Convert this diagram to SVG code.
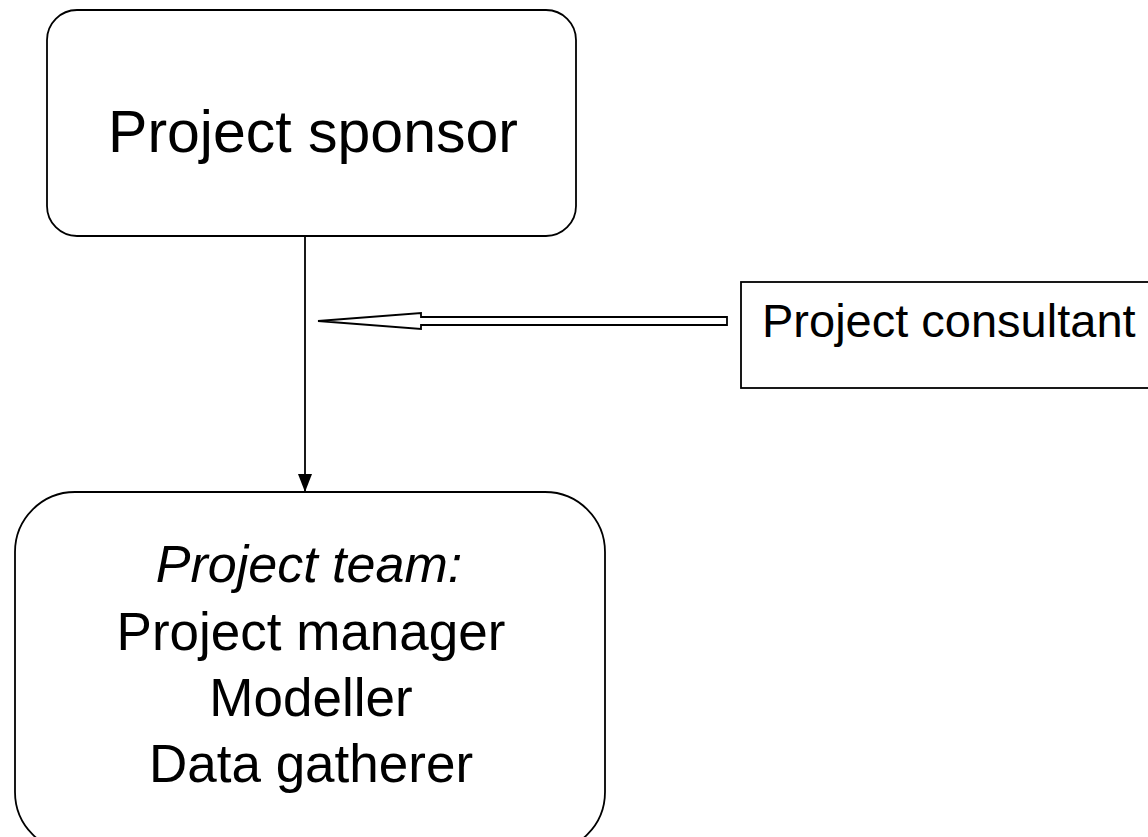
<svg xmlns="http://www.w3.org/2000/svg" width="1148" height="837" viewBox="0 0 1148 837">
<style>
.box{fill:#fff;stroke:#000;stroke-width:1.8}
.t{font-family:"Liberation Sans",Arial,sans-serif;fill:#000;text-anchor:middle}
.conn{stroke:#000;stroke-width:1.8;fill:none}
</style>
<defs>
<marker id="ah" markerWidth="14" markerHeight="18" refX="7" refY="18" orient="0" markerUnits="userSpaceOnUse">
<path d="M0,0 L14,0 L7,18 Z" fill="#000"/>
</marker>
</defs>
<rect width="1148" height="837" fill="#fff"/>
<g id="sponsor">
<rect class="box" x="47" y="10" width="529" height="226" rx="30"/>
<text class="t" x="313" y="152" font-size="59">Project sponsor</text>
</g>
<g id="consultant">
<rect class="box" x="741" y="282" width="420" height="106"/>
<text x="762" y="337" font-size="47" font-family="Liberation Sans, Arial, sans-serif" fill="#000">Project consultant</text>
</g>
<g id="team">
<rect class="box" x="15" y="492" width="590" height="360" rx="60"/>
<text class="t" x="309" y="582" font-size="52" font-style="italic">Project team:</text>
<text class="t" x="311" y="650" font-size="53">Project manager</text>
<text class="t" x="311" y="716" font-size="53">Modeller</text>
<text class="t" x="311" y="782" font-size="53">Data gatherer</text>
</g>
<g id="connectors">
<line class="conn" x1="305" y1="236" x2="305" y2="492" marker-end="url(#ah)"/>
<path d="M318,321 L421,313 L421,317 L727,317 L727,325 L421,325 L421,329 Z" fill="#fff" stroke="#000" stroke-width="1.8"/>
</g>
</svg>
